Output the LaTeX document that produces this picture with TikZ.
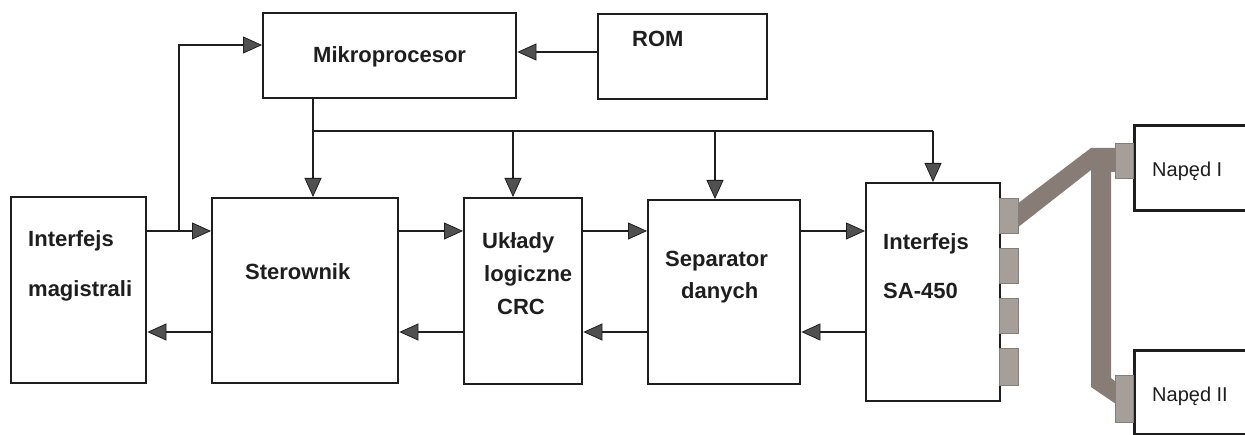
\documentclass[tikz,border=0pt]{standalone}
\usepackage{fontspec}
\setmainfont{Liberation Sans}
\usetikzlibrary{arrows.meta,calc}
\definecolor{ink}{HTML}{1E1E1E}
\definecolor{tipc}{HTML}{505050}
\definecolor{cablec}{HTML}{877C76}
\definecolor{portc}{HTML}{A59E99}
\begin{document}
\begin{tikzpicture}[x=1pt,y=-1pt,
  box/.style={draw=ink, line width=2.4pt, fill=white, inner sep=0pt, anchor=north west},
  drivebox/.style={draw=ink, line width=3.4pt, fill=white, inner sep=0pt, anchor=north west},
  lbl/.style={font=\bfseries\fontsize{22}{26}\selectfont, text=ink, inner sep=0pt, anchor=base west},
  dlbl/.style={font=\fontsize{20}{24}\selectfont, text=ink, inner sep=0pt, anchor=base west},
  wire/.style={draw=ink, line width=2.4pt},
  arr/.style={wire, -{Triangle[length=19pt,width=17pt,fill=tipc,line width=0.8pt]}},
  port/.style={fill=portc, draw=portc!80!black, line width=0.4pt, inner sep=0pt, anchor=north west}
]
\useasboundingbox (0,0) rectangle (1245,435);
\fill[white] (0,0) rectangle (1245,435);
\begin{scope}
\clip (0,0) rectangle (1245,435);
% boxes
\node[box, minimum width=135pt, minimum height=186pt] (im) at (10,196) {};
\node[box, minimum width=253pt, minimum height=85pt] (mp) at (262,12) {};
\node[box, minimum width=169pt, minimum height=85pt] (rom) at (597,13) {};
\node[box, minimum width=186pt, minimum height=185pt] (st) at (211,197) {};
\node[box, minimum width=118pt, minimum height=186pt] (crc) at (463,197) {};
\node[box, minimum width=152pt, minimum height=184pt] (sep) at (647,199) {};
\node[box, minimum width=134pt, minimum height=218pt] (sa) at (865,182) {};
\node[drivebox, minimum width=140pt, minimum height=85pt] (n1) at (1133,124) {};
\node[drivebox, minimum width=140pt, minimum height=84pt] (n2) at (1133,349) {};

% labels
\node[lbl] (tmp) at (313,63) {Mikroprocesor};
\node[lbl] (trom) at (632,47) {ROM};
\node[lbl] (tim1) at (28,247) {Interfejs};
\node[lbl] (tim2) at (28,297) {magistrali};
\node[lbl] (tst) at (245,280) {Sterownik};
\node[lbl] (tc1) at (482,249) {Układy};
\node[lbl] (tc2) at (484,282) {logiczne};
\node[lbl] (tc3) at (497,315) {CRC};
\node[lbl] (ts1) at (665,267) {Separator};
\node[lbl] (ts2) at (681,299) {danych};
\node[lbl] (ta1) at (883,250) {Interfejs};
\node[lbl] (ta2) at (883,299) {SA-450};
\node[dlbl] (tn1) at (1152,177) {Napęd I};
\node[dlbl] (tn2) at (1152,402) {Napęd II};

% levels
\coordinate (ytop) at (0,231);
\coordinate (ybot) at (0,332);
\coordinate (ymp) at (0,45);
\coordinate (yrom) at (0,52);
\coordinate (br) at (179,231);
\coordinate (b0) at (313,131);
\coordinate (b1) at (513,131);
\coordinate (b2) at (715,131);
\coordinate (b3) at (933,131);

% forward path
\draw[arr] (im.east |- ytop) -- (st.west |- ytop);
\draw[arr] (br) |- (mp.west |- ymp);
\draw[arr] (rom.west |- yrom) -- (mp.east |- yrom);
\draw[arr] (st.east |- ytop) -- (crc.west |- ytop);
\draw[arr] (crc.east |- ytop) -- (sep.west |- ytop);
\draw[arr] (sep.east |- ytop) -- (sa.west |- ytop);
% return path
\draw[arr] (sa.west |- ybot) -- (sep.east |- ybot);
\draw[arr] (sep.west |- ybot) -- (crc.east |- ybot);
\draw[arr] (crc.west |- ybot) -- (st.east |- ybot);
\draw[arr] (st.west |- ybot) -- (im.east |- ybot);
% bus
\draw[wire] (b0) -- (b3);
\draw[arr] (mp.south -| b0) -- (st.north -| b0);
\draw[arr] (b1) -- (crc.north -| b1);
\draw[arr] (b2) -- (sep.north -| b2);
\draw[arr] (b3) -- (sa.north -| b3);

% cable
\fill[cablec] (1017,204) -- (1091,148) -- (1116,148) -- (1116,172) -- (1111,172)
  -- (1111,378) -- (1116,382) -- (1116,404) -- (1091,387) -- (1091,170) -- (1017,228) -- cycle;
% ports
\node[port, minimum width=19pt, minimum height=35pt] (p1) at (999,198) {};
\node[port, minimum width=19pt, minimum height=35pt] (p2) at (999,248) {};
\node[port, minimum width=19pt, minimum height=35pt] (p3) at (999,298) {};
\node[port, minimum width=19pt, minimum height=37pt] (p4) at (999,348) {};
\node[port, minimum width=18pt, minimum height=35pt] (q1) at (1115,143) {};
\node[port, minimum width=18pt, minimum height=47pt] (q2) at (1115,375) {};
\end{scope}
\end{tikzpicture}
\end{document}
